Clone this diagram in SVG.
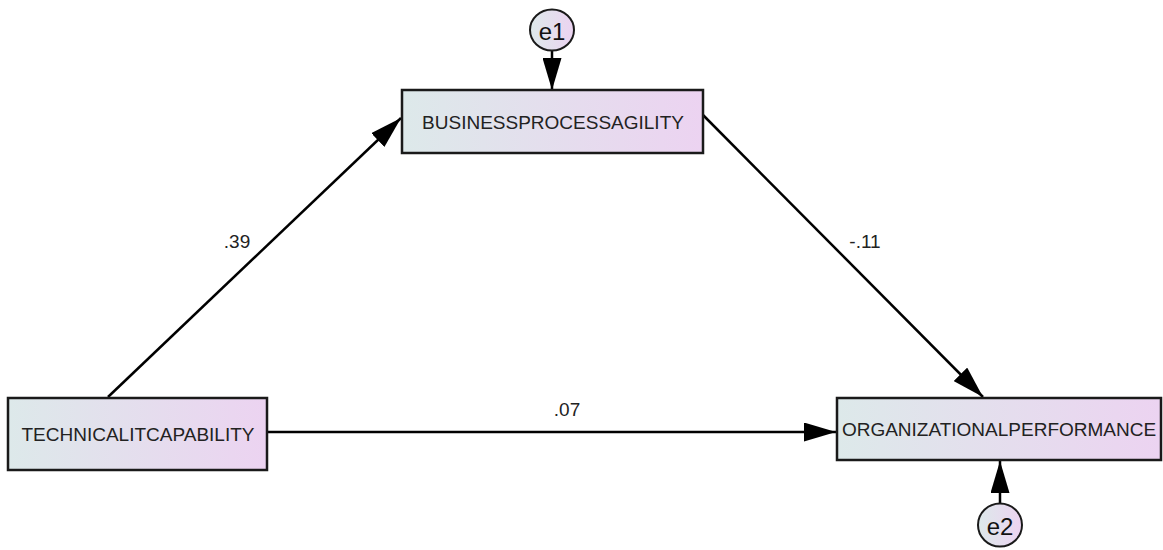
<svg xmlns="http://www.w3.org/2000/svg" width="1163" height="550" viewBox="0 0 1163 550">
<defs>
<linearGradient id="g" x1="0" y1="0" x2="1" y2="0">
<stop offset="0" stop-color="#dde9ea"/>
<stop offset="1" stop-color="#ecd3f1"/>
</linearGradient>
<marker id="arr" viewBox="0 0 32 19" refX="32" refY="9.5" markerWidth="32" markerHeight="19" markerUnits="userSpaceOnUse" orient="auto">
<path d="M0,0 L32,9.5 L0,19 z" fill="#000"/>
</marker>
<style>
.box{fill:url(#g);stroke:#1a1a1a;stroke-width:2.5}
.circ{fill:url(#g);stroke:#1a1a1a;stroke-width:2}
.lbl{font-family:"Liberation Sans",Arial,sans-serif;font-size:19px;fill:#222;text-anchor:middle;dominant-baseline:central}
.err{font-family:"Liberation Sans",Arial,sans-serif;font-size:24px;fill:#111;text-anchor:middle;dominant-baseline:central}
.coef{font-family:"Liberation Sans",Arial,sans-serif;font-size:19px;fill:#222;text-anchor:middle}
.ln{stroke:#000;stroke-width:2.5;fill:none;marker-end:url(#arr)}
</style>
</defs>
<rect width="1163" height="550" fill="#fff"/>
<g id="connectors">
<line class="ln" x1="108" y1="397" x2="401" y2="118"/>
<line class="ln" x1="703" y1="115" x2="983" y2="397"/>
<line class="ln" x1="267" y1="432" x2="836" y2="432"/>
<line class="ln" x1="552" y1="51" x2="552" y2="90"/>
<line class="ln" x1="1000" y1="503" x2="1000" y2="461"/>
<text class="coef" x="237" y="248">.39</text>
<text class="coef" x="865" y="248">-.11</text>
<text class="coef" x="567" y="416">.07</text>
</g>
<g id="bpa">
<rect class="box" x="402" y="90" width="301" height="63"/>
<text class="lbl" x="553" y="122">BUSINESSPROCESSAGILITY</text>
</g>
<g id="tic">
<rect class="box" x="8" y="398" width="259" height="72"/>
<text class="lbl" x="138" y="434">TECHNICALITCAPABILITY</text>
</g>
<g id="op">
<rect class="box" x="837" y="398" width="324" height="62"/>
<text class="lbl" x="999" y="429">ORGANIZATIONALPERFORMANCE</text>
</g>
<g id="e1">
<ellipse class="circ" cx="552" cy="30" rx="22" ry="20.5"/>
<text class="err" x="552" y="31">e1</text>
</g>
<g id="e2">
<ellipse class="circ" cx="1000" cy="525" rx="22" ry="21.5"/>
<text class="err" x="1000" y="526">e2</text>
</g>
</svg>
